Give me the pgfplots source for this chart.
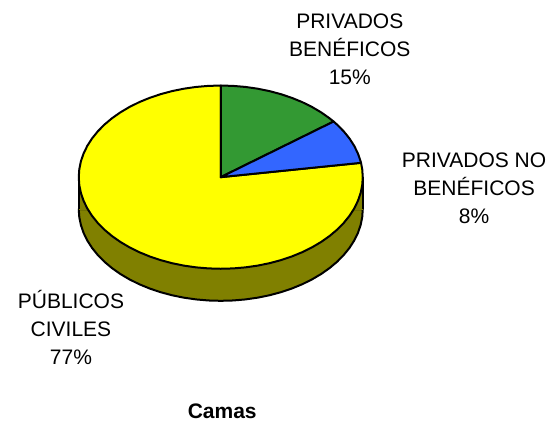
\documentclass[border=0pt]{standalone}
\usepackage{fontspec}
\setmainfont{Liberation Sans}
\usepackage{pgfplots}
\usepackage{pgfplotstable}
\pgfplotsset{compat=1.18}
\definecolor{pieG}{HTML}{339933}
\definecolor{pieB}{HTML}{3366FF}
\definecolor{pieY}{HTML}{FFFF00}
\definecolor{pieO}{HTML}{808000}
\pgfplotstableread{
u v
1.0000 0.0000
0.9962 -0.0872
0.9848 -0.1736
0.9659 -0.2588
0.9397 -0.3420
0.9063 -0.4226
0.8660 -0.5000
0.8192 -0.5736
0.7660 -0.6428
0.7071 -0.7071
0.6428 -0.7660
0.5736 -0.8192
0.5000 -0.8660
0.4226 -0.9063
0.3420 -0.9397
0.2588 -0.9659
0.1736 -0.9848
0.0872 -0.9962
0.0000 -1.0000
-0.0872 -0.9962
-0.1736 -0.9848
-0.2588 -0.9659
-0.3420 -0.9397
-0.4226 -0.9063
-0.5000 -0.8660
-0.5736 -0.8192
-0.6428 -0.7660
-0.7071 -0.7071
-0.7660 -0.6428
-0.8192 -0.5736
-0.8660 -0.5000
-0.9063 -0.4226
-0.9397 -0.3420
-0.9659 -0.2588
-0.9848 -0.1736
-0.9962 -0.0872
-1.0000 0.0000
}\lowerhalf
\begin{document}
\begin{tikzpicture}
\begin{axis}[
  scale only axis, width=550pt, height=422pt,
  xmin=-1.5546, xmax=2.3186, ymin=-2.6728, ymax=1.9339,
  hide axis, clip=false]
\path (rel axis cs:0,0) rectangle (rel axis cs:1,1);
% side of the pie
\addplot[fill=pieO, draw=black, line width=2pt, line join=round]
  table[x=u, y expr=\thisrow{v}-0.35] {\lowerhalf} -- cycle;
\addplot[fill=pieO, draw=none] coordinates {(-1,0) (-1,-0.36) (1,-0.36) (1,0)} -- cycle;
\addplot[draw=black, line width=2pt] coordinates {(-1,0) (-1,-0.35)};
\addplot[draw=black, line width=2pt] coordinates {(1,0) (1,-0.35)};
% Públicos civiles 77%
\addplot[fill=pieY, draw=black, line width=2pt, line join=round] coordinates {
(0,0) (0.9877,0.1564) (0.9962,0.0872)
(1.0000,0.0000) (0.9962,-0.0872) (0.9848,-0.1736) (0.9659,-0.2588) (0.9397,-0.3420)
(0.9063,-0.4226) (0.8660,-0.5000) (0.8192,-0.5736) (0.7660,-0.6428) (0.7071,-0.7071)
(0.6428,-0.7660) (0.5736,-0.8192) (0.5000,-0.8660) (0.4226,-0.9063) (0.3420,-0.9397)
(0.2588,-0.9659) (0.1736,-0.9848) (0.0872,-0.9962) (0.0000,-1.0000) (-0.0872,-0.9962)
(-0.1736,-0.9848) (-0.2588,-0.9659) (-0.3420,-0.9397) (-0.4226,-0.9063) (-0.5000,-0.8660)
(-0.5736,-0.8192) (-0.6428,-0.7660) (-0.7071,-0.7071) (-0.7660,-0.6428) (-0.8192,-0.5736)
(-0.8660,-0.5000) (-0.9063,-0.4226) (-0.9397,-0.3420) (-0.9659,-0.2588) (-0.9848,-0.1736)
(-0.9962,-0.0872) (-1.0000,0.0000) (-0.9962,0.0872) (-0.9848,0.1736) (-0.9659,0.2588)
(-0.9397,0.3420) (-0.9063,0.4226) (-0.8660,0.5000) (-0.8192,0.5736) (-0.7660,0.6428)
(-0.7071,0.7071) (-0.6428,0.7660) (-0.5736,0.8192) (-0.5000,0.8660) (-0.4226,0.9063)
(-0.3420,0.9397) (-0.2588,0.9659) (-0.1736,0.9848) (-0.0872,0.9962) (0,1)
} -- cycle;
% Privados benéficos 15%
\addplot[fill=pieG, draw=black, line width=2pt, line join=round] coordinates {
(0,0) (0,1) (0.0872,0.9962) (0.1736,0.9848) (0.2588,0.9659) (0.3420,0.9397) (0.4226,0.9063)
(0.5000,0.8660) (0.5736,0.8192) (0.6428,0.7660) (0.7071,0.7071) (0.7660,0.6428) (0.7946,0.6072)
} -- cycle;
% Privados no benéficos 8%
\addplot[fill=pieB, draw=black, line width=2pt, line join=round] coordinates {
(0,0) (0.7946,0.6072) (0.8192,0.5736) (0.8660,0.5000) (0.9063,0.4226) (0.9397,0.3420) (0.9659,0.2588)
(0.9848,0.1736) (0.9877,0.1564)
} -- cycle;
\node[align=center, font=\fontsize{21}{28}\selectfont] at (rel axis cs:0.636,0.883) {PRIVADOS\\BENÉFICOS\\15\%};
\node[align=center, font=\fontsize{21}{28}\selectfont] at (rel axis cs:0.862,0.553) {PRIVADOS NO\\BENÉFICOS\\8\%};
\node[align=center, font=\fontsize{21}{28}\selectfont] at (rel axis cs:0.129,0.223) {PÚBLICOS\\CIVILES\\77\%};
\node[font=\fontsize{21}{28}\selectfont\bfseries] at (rel axis cs:0.404,0.025) {Camas};
\end{axis}
\end{tikzpicture}
\end{document}
